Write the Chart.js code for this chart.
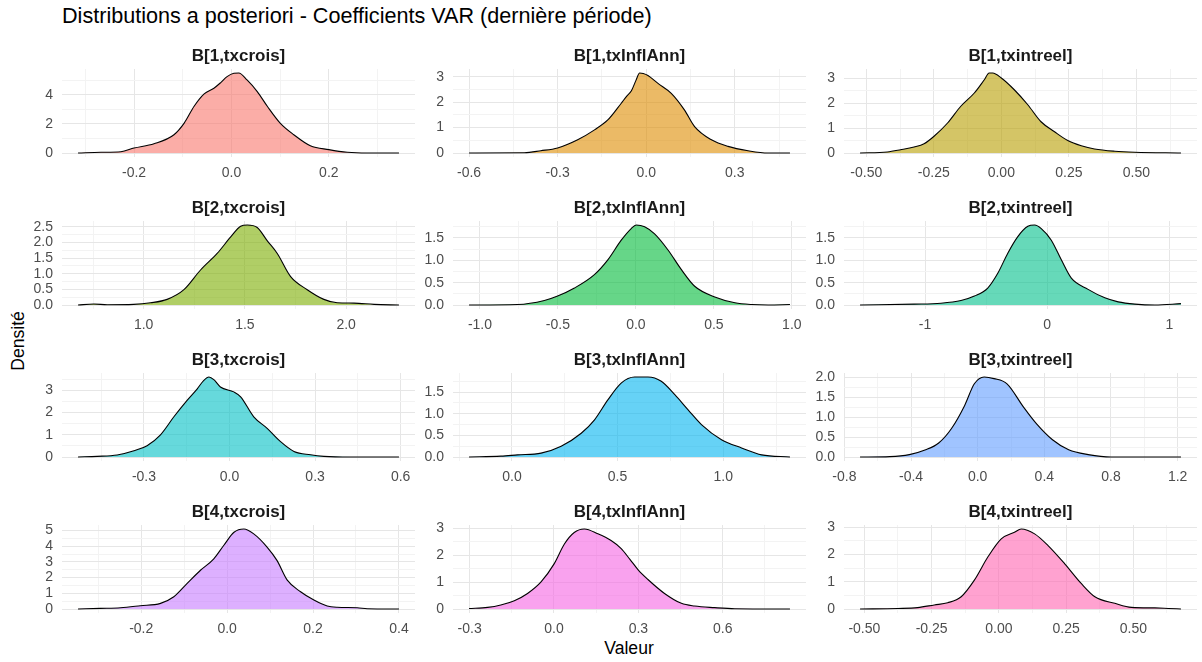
<!DOCTYPE html>
<html>
<head>
<meta charset="utf-8">
<script src="https://cdn.jsdelivr.net/npm/chart.js@4/dist/chart.umd.min.js"></script>
<style>
  body { margin: 0; background: #fff; width: 1202px; height: 662px; position: relative; overflow: hidden;
         font-family: "Liberation Sans", Arial, sans-serif; }
  canvas { position: absolute; }
  #titre { position: absolute; left: 62px; top: 4px; font-size: 21.6px; line-height: 24px; color: #000; white-space: nowrap; }
  #xlab { position: absolute; left: 529px; top: 637px; width: 200px; text-align: center; font-size: 17.6px; line-height: 22px; color: #000; }
  #ylab { position: absolute; left: -32px; top: 330px; width: 100px; text-align: center; font-size: 17.6px; line-height: 22px; color: #000; transform: rotate(-90deg); }
</style>
</head>
<body>
<div id="titre">Distributions a posteriori - Coefficients VAR (dernière période)</div>
<div id="xlab">Valeur</div>
<div id="ylab">Densité</div>
<script>
// Titres des facettes (ordre ligne par ligne)
const panelTitles = ['B[1,txcrois]', 'B[1,txInflAnn]', 'B[1,txintreel]',
                     'B[2,txcrois]', 'B[2,txInflAnn]', 'B[2,txintreel]',
                     'B[3,txcrois]', 'B[3,txInflAnn]', 'B[3,txintreel]',
                     'B[4,txcrois]', 'B[4,txInflAnn]', 'B[4,txintreel]'];

// Étiquettes des graduations
const xTickLabels = [['-0.2','0.0','0.2'], ['-0.6','-0.3','0.0','0.3'], ['-0.50','-0.25','0.00','0.25','0.50'],
                     ['1.0','1.5','2.0'], ['-1.0','-0.5','0.0','0.5','1.0'], ['-1','0','1'],
                     ['-0.3','0.0','0.3','0.6'], ['0.0','0.5','1.0'], ['-0.8','-0.4','0.0','0.4','0.8','1.2'],
                     ['-0.2','0.0','0.2','0.4'], ['-0.3','0.0','0.3','0.6','0.9'], ['-0.50','-0.25','0.00','0.25','0.50']];
const yTickLabels = [['0','2','4'], ['0','1','2','3'], ['0','1','2','3'],
                     ['0.0','0.5','1.0','1.5','2.0','2.5'], ['0.0','0.5','1.0','1.5'], ['0.0','0.5','1.0','1.5'],
                     ['0','1','2','3'], ['0.0','0.5','1.0','1.5'], ['0.0','0.5','1.0','1.5','2.0'],
                     ['0','1','2','3','4','5'], ['0','1','2','3'], ['0','1','2','3']];

// Densités : valeur (x) et densité (d)
const x_B1_txcrois = [-0.315,-0.268,-0.227,-0.2,-0.159,-0.118,-0.097,-0.077,-0.056,-0.036,-0.022,-0.009,0.005,0.015,0.032,0.053,0.074,0.1,0.128,0.162,0.2,0.238,0.279,0.344];
const d_B1_txcrois = [0,0.05,0.09,0.34,0.64,1.26,2.06,3.2,4.07,4.46,4.85,5.26,5.49,5.51,5.03,4.23,3.2,2.06,1.26,0.5,0.23,0.05,0,0];

const x_B1_txInflAnn = [-0.6,-0.413,-0.357,-0.3,-0.232,-0.175,-0.13,-0.085,-0.065,-0.05,-0.035,-0.022,-0.01,0.006,0.04,0.085,0.13,0.164,0.221,0.277,0.345,0.413,0.487];
const d_B1_txInflAnn = [0,0.01,0.09,0.2,0.52,0.91,1.3,1.95,2.25,2.45,2.85,3.15,3.13,3.05,2.74,2.35,1.69,1.04,0.52,0.26,0.09,0,0];

const x_B1_txintreel = [-0.523,-0.422,-0.373,-0.323,-0.286,-0.249,-0.199,-0.15,-0.1,-0.063,-0.045,-0.032,0,0.048,0.098,0.147,0.197,0.246,0.296,0.345,0.42,0.494,0.665];
const d_B1_txintreel = [0,0.04,0.13,0.24,0.37,0.67,1.2,1.87,2.4,2.93,3.2,3.2,3.0,2.53,1.93,1.25,0.85,0.5,0.29,0.16,0.07,0.03,0];

const x_B2_txcrois = [0.676,0.754,0.82,0.951,1.034,1.116,1.199,1.281,1.363,1.429,1.479,1.512,1.561,1.61,1.66,1.726,1.808,1.89,1.956,2.039,2.138,2.261];
const d_B2_txcrois = [0,0.03,0.01,0.02,0.07,0.18,0.49,1.12,1.65,2.17,2.52,2.56,2.48,2.06,1.65,0.91,0.49,0.18,0.07,0.06,0.02,0];

const x_B2_txInflAnn = [-1.07,-0.759,-0.587,-0.502,-0.394,-0.266,-0.18,-0.094,-0.03,0.002,0.056,0.12,0.206,0.292,0.377,0.506,0.635,0.742,0.849,0.988];
const d_B2_txInflAnn = [0,0.01,0.1,0.2,0.38,0.68,1.01,1.45,1.71,1.79,1.75,1.59,1.23,0.79,0.42,0.18,0.05,0.01,0,0.01];

const x_B2_txintreel = [-1.532,-1.089,-0.87,-0.706,-0.596,-0.487,-0.405,-0.323,-0.241,-0.159,-0.104,-0.049,0.033,0.115,0.197,0.334,0.471,0.58,0.717,0.881,1.094];
const d_B2_txintreel = [0,0.02,0.04,0.1,0.2,0.38,0.71,1.16,1.53,1.76,1.79,1.71,1.45,1.01,0.6,0.35,0.16,0.07,0.02,0,0.03];

const x_B3_txcrois = [-0.531,-0.464,-0.394,-0.335,-0.289,-0.242,-0.195,-0.148,-0.113,-0.09,-0.072,-0.055,-0.032,0.015,0.039,0.085,0.132,0.179,0.226,0.284,0.331,0.424,0.594];
const d_B3_txcrois = [0,0.03,0.09,0.28,0.51,1.0,1.81,2.56,3.07,3.45,3.6,3.48,3.15,2.93,2.71,1.81,1.29,0.69,0.25,0.1,0.03,0,0];

const x_B3_txInflAnn = [-0.203,-0.052,0.027,0.138,0.233,0.328,0.391,0.454,0.517,0.581,0.644,0.707,0.771,0.834,0.897,0.992,1.087,1.182,1.316];
const d_B3_txInflAnn = [0,0.02,0.05,0.09,0.25,0.55,0.86,1.32,1.71,1.85,1.85,1.75,1.44,1.09,0.75,0.4,0.21,0.05,0];

const x_B3_txintreel = [-0.706,-0.527,-0.41,-0.312,-0.234,-0.156,-0.078,-0.02,0.039,0.098,0.176,0.273,0.351,0.449,0.546,0.663,0.8,1.22];
const d_B3_txintreel = [0,0.01,0.06,0.18,0.35,0.72,1.29,1.83,2.0,1.96,1.83,1.26,0.84,0.43,0.18,0.06,0,0];

const x_B4_txcrois = [-0.347,-0.295,-0.248,-0.202,-0.155,-0.124,-0.093,-0.062,-0.031,-0.008,0.016,0.039,0.062,0.093,0.116,0.14,0.171,0.202,0.233,0.256,0.303,0.326,0.4];
const d_B4_txcrois = [0,0.04,0.08,0.21,0.36,0.78,1.63,2.47,3.2,4.05,4.89,5.1,4.79,3.95,3.1,1.84,1.1,0.57,0.19,0.11,0.08,0.02,0];

const x_B4_txInflAnn = [-0.302,-0.236,-0.189,-0.141,-0.094,-0.046,0.001,0.037,0.072,0.108,0.156,0.203,0.239,0.27,0.3,0.334,0.393,0.453,0.5,0.571,0.643,0.839];
const d_B4_txInflAnn = [0.02,0.06,0.15,0.31,0.58,1.01,1.69,2.42,2.85,2.98,2.8,2.55,2.25,1.85,1.45,1.1,0.58,0.21,0.11,0.05,0.01,0];

const x_B4_txintreel = [-0.516,-0.376,-0.302,-0.24,-0.19,-0.14,-0.091,-0.041,0.009,0.058,0.083,0.133,0.183,0.245,0.307,0.357,0.431,0.493,0.58,0.63,0.677];
const d_B4_txintreel = [0,0.02,0.05,0.15,0.23,0.45,1.06,1.91,2.58,2.82,2.94,2.76,2.33,1.66,0.93,0.45,0.21,0.06,0.04,0.02,0];

const panelX = [x_B1_txcrois, x_B1_txInflAnn, x_B1_txintreel, x_B2_txcrois, x_B2_txInflAnn, x_B2_txintreel,
                x_B3_txcrois, x_B3_txInflAnn, x_B3_txintreel, x_B4_txcrois, x_B4_txInflAnn, x_B4_txintreel];
const panelD = [d_B1_txcrois, d_B1_txInflAnn, d_B1_txintreel, d_B2_txcrois, d_B2_txInflAnn, d_B2_txintreel,
                d_B3_txcrois, d_B3_txInflAnn, d_B3_txintreel, d_B4_txcrois, d_B4_txInflAnn, d_B4_txintreel];

// Palette ggplot (hue) avec alpha 0.6
const palette = ['#F8766D','#DE8C00','#B79F00','#7CAE00','#00BA38','#00C08B',
                 '#00BFC4','#00B4F0','#619CFF','#C77CFF','#F564E3','#FF64B0'];

// Mise en page des panneaux
const colLeft = [62, 453, 844];
const rowTop = [69, 221, 373, 525];
const plotW = 353, plotH = 88;
const axisW = 40, stripH = 26, axisH = 26;
const fontFam = '"Liberation Sans", Arial, sans-serif';

function rgba(hex, a) {
  const n = parseInt(hex.slice(1), 16);
  return `rgba(${(n >> 16) & 255},${(n >> 8) & 255},${n & 255},${a})`;
}

// Graduations majeures + mineures (à mi-chemin), comme ggplot
function buildTicks(labels, min, max) {
  const majors = labels.map(Number);
  const step = majors[1] - majors[0];
  const ticks = [];
  for (let k = -40; k <= 60; k++) {
    const v = majors[0] + k * step / 2;
    if (v < min - 1e-9 || v > max + 1e-9) continue;
    ticks.push({ value: v, minor: k % 2 !== 0 });
  }
  return ticks;
}

function labelFor(labels, value) {
  const l = labels.find(s => Math.abs(Number(s) - value) < 1e-6);
  return l === undefined ? '' : l;
}

const stripTitle = {
  id: 'stripTitle',
  afterDraw(chart, args, opts) {
    const { ctx, chartArea } = chart;
    ctx.save();
    ctx.font = 'bold 17px ' + fontFam;
    ctx.fillStyle = '#1a1a1a';
    ctx.textAlign = 'center';
    ctx.textBaseline = 'middle';
    ctx.fillText(opts.text, (chartArea.left + chartArea.right) / 2, chartArea.top - 13);
    ctx.restore();
  }
};

const gridColor = c => (c.tick && c.tick.minor) ? '#f3f3f3' : '#e6e6e6';

panelTitles.forEach((title, i) => {
  const xs = panelX[i], ds = panelD[i];
  const xLo = Math.min(...xs), xHi = Math.max(...xs);
  const xPad = (xHi - xLo) * 0.05;
  const xmin = xLo - xPad, xmax = xHi + xPad;
  const dMax = Math.max(...ds);
  const ymin = -0.05 * dMax, ymax = 1.05 * dMax;

  const cv = document.createElement('canvas');
  cv.width = axisW + plotW + axisW;
  cv.height = stripH + plotH + axisH;
  cv.style.left = (colLeft[i % 3] - axisW) + 'px';
  cv.style.top = (rowTop[Math.floor(i / 3)] - stripH) + 'px';
  document.body.appendChild(cv);

  new Chart(cv, {
    type: 'line',
    data: {
      datasets: [{
        data: xs.map((x, j) => ({ x: x, y: ds[j] })),
        borderColor: '#000',
        borderWidth: 1.1,
        backgroundColor: rgba(palette[i], 0.6),
        fill: 'origin',
        pointRadius: 0,
        cubicInterpolationMode: 'monotone'
      }]
    },
    options: {
      responsive: false,
      animation: false,
      devicePixelRatio: 1,
      layout: { padding: { top: stripH, right: axisW, left: 0, bottom: 0 } },
      plugins: { legend: { display: false }, tooltip: { enabled: false }, stripTitle: { text: title } },
      scales: {
        x: {
          type: 'linear', min: xmin, max: xmax,
          border: { display: false },
          grid: { drawTicks: false, color: gridColor, lineWidth: 1 },
          ticks: {
            padding: 8, autoSkip: false, maxRotation: 0, color: '#4d4d4d',
            font: { family: fontFam, size: 14 },
            callback: (v, idx, ticks) => ticks[idx].minor ? '' : labelFor(xTickLabels[i], v)
          },
          afterBuildTicks: s => { s.ticks = buildTicks(xTickLabels[i], xmin, xmax); },
          afterFit: s => { s.height = axisH; s.paddingLeft = 0; s.paddingRight = 0; }
        },
        y: {
          min: ymin, max: ymax,
          border: { display: false },
          grid: { drawTicks: false, color: gridColor, lineWidth: 1 },
          ticks: {
            padding: 9, autoSkip: false, color: '#4d4d4d',
            font: { family: fontFam, size: 14 },
            callback: (v, idx, ticks) => ticks[idx].minor ? '' : labelFor(yTickLabels[i], v)
          },
          afterBuildTicks: s => { s.ticks = buildTicks(yTickLabels[i], ymin, ymax); },
          afterFit: s => { s.width = axisW; s.paddingTop = 0; s.paddingBottom = 0; }
        }
      }
    },
    plugins: [stripTitle]
  });
});
</script>
</body>
</html>
